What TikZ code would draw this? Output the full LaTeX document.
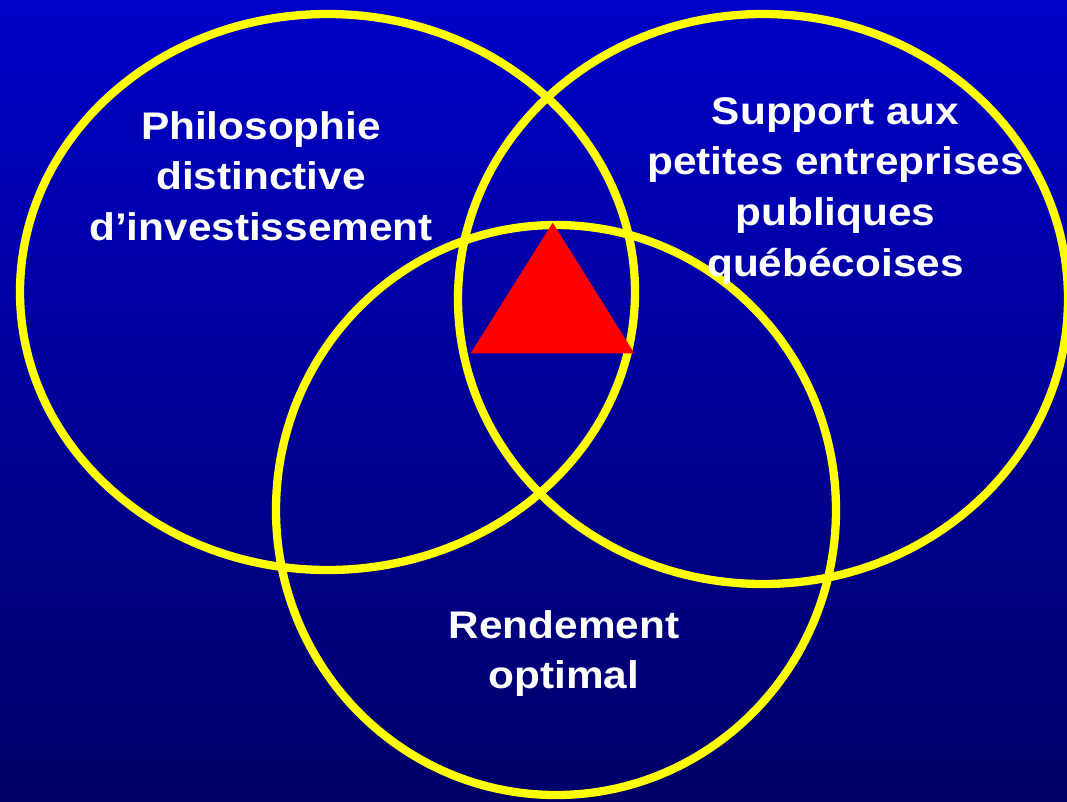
\documentclass[tikz,border=0pt]{standalone}
\usepackage{fontspec}
\setmainfont{Liberation Sans}
\definecolor{bgtop}{RGB}{0,0,200}
\definecolor{bgbot}{RGB}{0,0,104}
\definecolor{ring}{RGB}{255,255,0}
\definecolor{tri}{RGB}{255,0,0}
\newcommand{\lbl}[1]{\scalebox{1.1}[1]{\begin{tabular}[t]{@{}c@{}}#1\end{tabular}}}
\tikzset{
  ringline/.style={draw=ring, line width=8.3pt},
  label text/.style={text=white, inner sep=0pt, anchor=base,
    font=\fontsize{38.5}{50.6}\selectfont\bfseries}
}
\begin{document}
\begin{tikzpicture}[x=1pt,y=-1pt]
\useasboundingbox (0,0) rectangle (1067,801);
\shade[top color=bgtop, bottom color=bgbot] (0,0) rectangle (1067,801);
\draw[ringline] (327.5,292) ellipse [x radius=307.5, y radius=278];
\draw[ringline] (763,299) ellipse [x radius=305, y radius=285];
\draw[ringline] (556,510) ellipse [x radius=280, y radius=285];
\fill[tri] (552.7,222.7) -- (470.7,353.3) -- (634.3,353.3) -- cycle;
\node[label text] (philo) at (261,139) {\lbl{Philosophie\\distinctive\\d’investissement}};
\node[label text] (support) at (835.5,124.3) {\lbl{Support aux\\petites entreprises\\publiques\\québécoises}};
\node[label text] (rendement) at (564,638.3) {\lbl{Rendement\\optimal}};
\end{tikzpicture}
\end{document}
